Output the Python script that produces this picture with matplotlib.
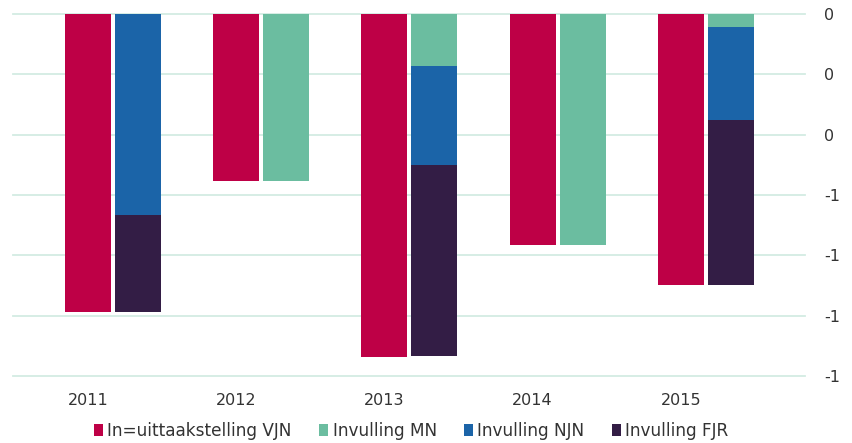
import matplotlib
matplotlib.use("Agg")
import matplotlib.pyplot as plt
import numpy as np

years = ["2011", "2012", "2013", "2014", "2015"]
vjn = [-0.988, -0.553, -1.136, -0.766, -0.898]
mn = [0.0, -0.553, -0.172, -0.766, -0.042]
njn = [-0.666, 0.0, -0.328, 0.0, -0.309]
fjr = [-0.322, 0.0, -0.635, 0.0, -0.547]
yticks = [0, -0.2, -0.4, -0.6, -0.8, -1.0, -1.2]
ytick_labels = ["0", "0", "0", "-1", "-1", "-1", "-1"]
series_names = ["In=uittaakstelling VJN", "Invulling MN", "Invulling NJN", "Invulling FJR"]
colors = ["#BE0046", "#6BBDA0", "#1B64A8", "#331D45"]

plt.rcParams['font.family'] = ['DejaVu Sans']
fig = plt.figure(figsize=(8.53, 4.43), dpi=100)
ax = fig.add_axes([13/853, 67/443, 792/853, 362/443])

x = np.arange(len(years))
w = 0.31
off = 0.1686

ax.bar(x - off, vjn, width=w, color=colors[0], label=series_names[0], zorder=3)
bottom = np.zeros(len(years))
for vals, c, name in [(mn, colors[1], series_names[1]), (njn, colors[2], series_names[2]), (fjr, colors[3], series_names[3])]:
    ax.bar(x + off, vals, width=w, bottom=bottom, color=c, label=name, zorder=3)
    bottom = bottom + np.array(vals)

ax.set_xlim(-0.673, 4.668)
ax.set_ylim(-1.2, 0)
ax.set_yticks(yticks)
ax.set_yticklabels(ytick_labels)
ax.yaxis.tick_right()
ax.set_xticks(x - off)
ax.set_xticklabels(years)
ax.tick_params(axis='both', length=0, labelsize=11.5, colors='#333333')
ax.tick_params(axis='x', pad=12)
ax.tick_params(axis='y', pad=14)
for s in ax.spines.values():
    s.set_visible(False)
ax.grid(axis='y', color='#D3ECE3', linewidth=1.3, zorder=0)
for gl in ax.get_ygridlines():
    gl.set_clip_on(False)

fig.legend(loc='center', bbox_to_anchor=(0.482, 12/443), ncol=4, frameon=False,
           fontsize=12.2, handlelength=0.55, handleheight=0.7, handletextpad=0.25,
           columnspacing=1.6, labelcolor='#333333')

fig.savefig("out.png", dpi=100)
